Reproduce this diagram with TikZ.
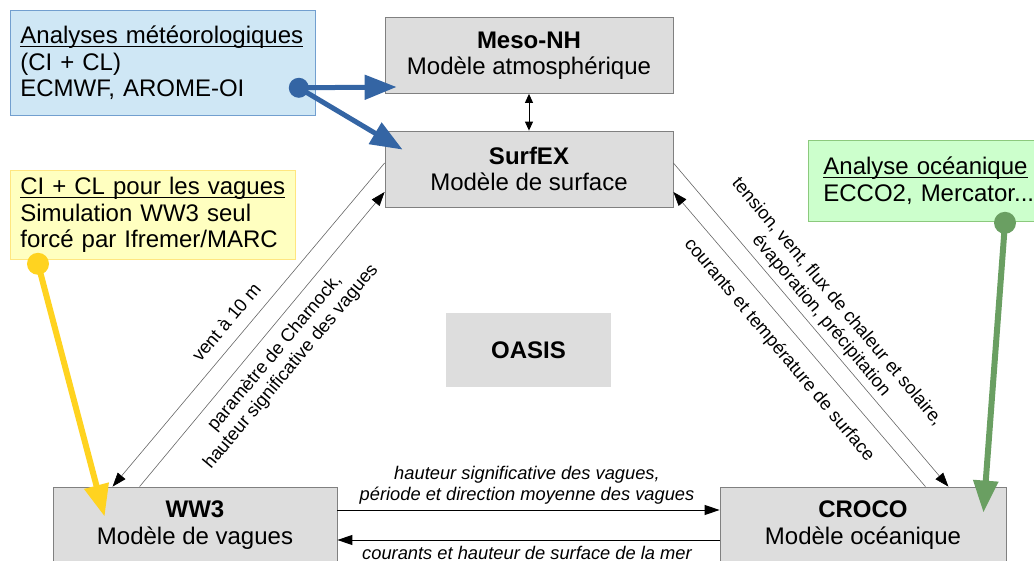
\documentclass[tikz,border=0pt]{standalone}
\usepackage{fontspec}
\setmainfont{Liberation Sans}
\usepackage{xcolor}
\usetikzlibrary{arrows.meta}

\definecolor{boxgray}{HTML}{DDDDDD}
\definecolor{boxedge}{HTML}{808080}
\definecolor{meteofill}{HTML}{CFE7F5}
\definecolor{meteoedge}{HTML}{729FCF}
\definecolor{meteoblue}{HTML}{3465A4}
\definecolor{wavefill}{HTML}{FFFFC0}
\definecolor{waveedge}{HTML}{FFE680}
\definecolor{waveyellow}{HTML}{FFD320}
\definecolor{oceanfill}{HTML}{CCFFCC}
\definecolor{oceanedge}{HTML}{8CC97D}
\definecolor{oceangreen}{HTML}{6A9F62}

\newcommand{\modelfont}{\fontsize{24}{26.5}\selectfont}
\newcommand{\fluxfont}{\fontsize{18.3}{21}\selectfont}
% underline just under the baseline
\newcommand{\souligne}[1]{\leavevmode\setbox0\hbox{#1}\rlap{\rule[-3pt]{\wd0}{1.1pt}}\box0}

\begin{document}
\begin{tikzpicture}[x=1pt,y=-1pt,
	model/.style={draw=boxedge, fill=boxgray, line width=0.8pt, minimum width=288, minimum height=76, inner sep=0pt, align=center, font=\modelfont},
	source/.style={line width=0.8pt, anchor=north west, inner xsep=10pt, inner ysep=0pt, align=left, font=\modelfont},
	flux/.style={font=\fluxfont, align=center, inner sep=0pt},
	fluxit/.style={font=\fluxfont\itshape, align=center, inner sep=0pt},
	exch/.style={draw=black!60, line width=0.6pt, -{Triangle[length=14pt,width=10pt,color=black]}},
	horiz/.style={draw=black, line width=1pt, -{Triangle[length=15pt,width=10pt]}},
	force/.style={line width=6pt, -{Triangle[length=32pt,width=24pt]}}]
	\useasboundingbox (0,0) rectangle (1034,561);
	
	% models
	\node[model] (meso) at (529,55.5) {\textbf{Meso-NH}\\Modèle atmosphérique};
	\node[model] (surfex) at (529,169) {\textbf{SurfEX}\\Modèle de surface};
	\node[model, draw=none, minimum width=165, minimum height=74] (oasis) at (528.5,350) {\textbf{OASIS}};
	\node[model, minimum width=284] (ww3) at (195,525) {\textbf{WW3}\\Modèle de vagues};
	\node[model, minimum width=286] (croco) at (863,525) {\textbf{CROCO}\\Modèle océanique};
	
	% forcing sources
	\node[source, draw=meteoedge, fill=meteofill, text width=285, minimum height=105] (meteo) at (10,10)
		{\souligne{Analyses météorologiques}\\(CI + CL)\\ECMWF, AROME-OI};
	\node[source, draw=waveedge, fill=wavefill, text width=265, minimum height=89] (wave) at (10,170)
		{\souligne{CI + CL pour les vagues}\\Simulation WW3 seul\\forcé par Ifremer/MARC};
	\node[source, draw=oceanedge, fill=oceanfill, inner xsep=15pt, text width=225, minimum height=81] (ocean) at (808,140)
		{\souligne{Analyse océanique}\\ECCO2, Mercator...};
	
	% blue, yellow and green forcing arrows
	\coordinate (meteodot) at ([xshift=-17pt,yshift=28pt]meteo.south east);
	\coordinate (wavedot) at ([xshift=28pt,yshift=-4pt]wave.south west);
	\coordinate (oceandot) at ([xshift=197pt,yshift=-1pt]ocean.south west);
	\draw[force, meteoblue, line width=5pt] (meteodot) -- ([xshift=12pt,yshift=-31.5pt]meso.west);
	\draw[force, meteoblue, line width=5pt] (meteodot) -- ([xshift=18pt,yshift=-19pt]surfex.north west);
	\draw[force, waveyellow] (wavedot) -- ([xshift=52pt,yshift=-30pt]ww3.north west);
	\draw[force, oceangreen] (oceandot) -- ([xshift=-23pt,yshift=-26pt]croco.north east);
	\fill[meteoblue] (meteodot) circle[radius=10pt];
	\fill[waveyellow] (wavedot) circle[radius=11pt];
	\fill[oceangreen] (oceandot) circle[radius=11pt];
	
	% coupling
	\draw[black, line width=1pt, {Triangle[length=9pt,width=8pt]}-{Triangle[length=9pt,width=8pt]}] (meso.south) -- (surfex.north);
	\draw[exch] ([yshift=6pt]surfex.west) -- ([xshift=60pt]ww3.north west);
	\draw[exch] ([xshift=87pt]ww3.north west) -- ([yshift=-23pt]surfex.west);
	\draw[exch] ([yshift=6pt]surfex.east) -- ([xshift=-58pt]croco.north east);
	\draw[exch] ([xshift=-81pt]croco.north east) -- ([yshift=-23pt]surfex.east);
	\draw[horiz] ([yshift=15pt]ww3.east) -- ([yshift=15pt]croco.west);
	\draw[horiz] ([yshift=-15pt]croco.west) -- ([yshift=-15pt]ww3.east);
	
	% exchanged fields
	\node[flux, rotate=50] (ventlbl) at (226,322) {vent à 10 m};
	\node[flux, rotate=50] (charnocklbl) at (283,360) {paramètre de Charnock,\\hauteur significative des vagues};
	\node[flux, rotate=-50] (tensionlbl) at (829,309) {tension, vent, flux de chaleur et solaire,\\évaporation, précipitation};
	\node[flux, rotate=-50] (courantlbl) at (779,350) {courants et température de surface};
	\node[fluxit] (vagueslbl) at (527,485) {hauteur significative des vagues,\\période et direction moyenne des vagues};
	\node[fluxit] (merlbl) at (527,553) {courants et hauteur de surface de la mer};
\end{tikzpicture}
\end{document}
